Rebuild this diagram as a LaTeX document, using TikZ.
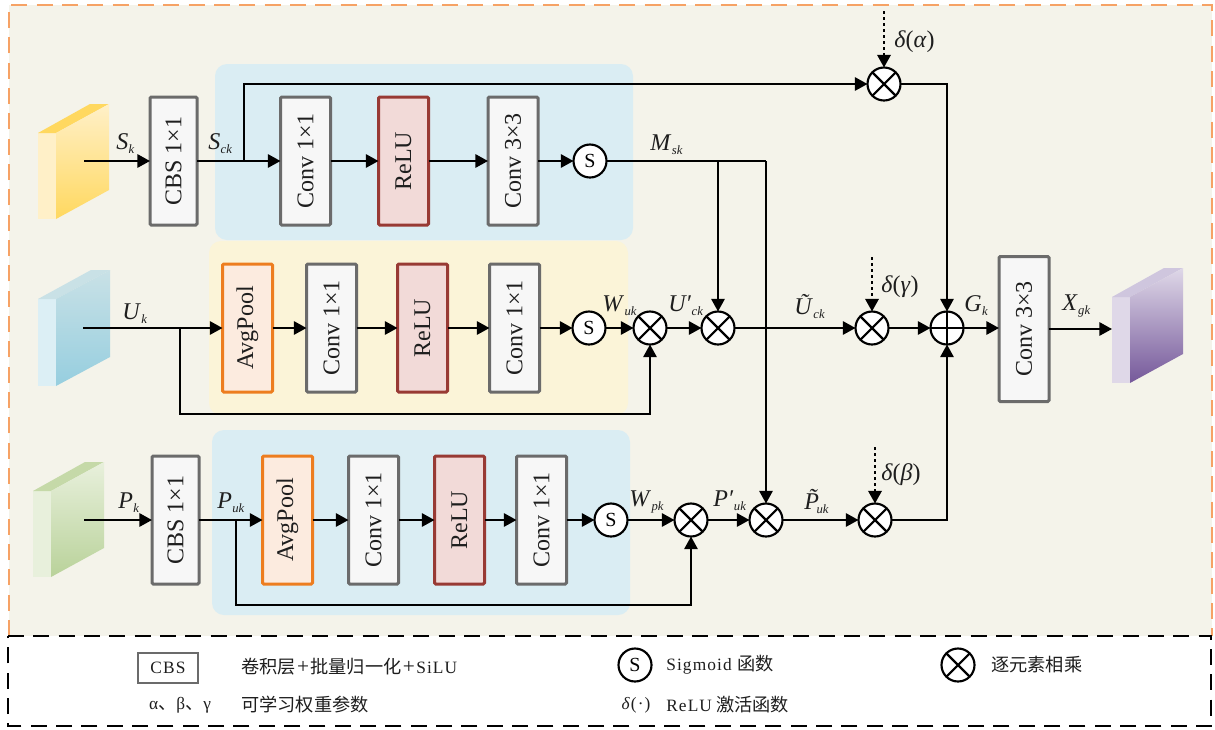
\documentclass[tikz,border=0pt]{standalone}
\usepackage{fontspec}
\setmainfont{Liberation Serif}
\newfontfamily\cjk{Noto Sans CJK SC}[Scale=1.05]
\newfontfamily\lsp{Liberation Serif}[LetterSpace=6.5]
\usetikzlibrary{arrows.meta}
\definecolor{bgc}{HTML}{F4F3EA}
\definecolor{panB}{HTML}{DAEDF3}
\definecolor{panY}{HTML}{FBF4D8}
\definecolor{orangeD}{HTML}{F6A265}
\definecolor{boxE}{HTML}{6B6B6B}
\definecolor{boxF}{HTML}{F7F7F7}
\definecolor{reluE}{HTML}{983A34}
\definecolor{reluF}{HTML}{F2DAD8}
\definecolor{avgE}{HTML}{ED7D1F}
\definecolor{avgF}{HTML}{FCEBDF}
\definecolor{txtc}{HTML}{1E1E1E}
\definecolor{yl}{HTML}{FFF0C8}\definecolor{yd}{HTML}{FFD85F}\definecolor{ym}{HTML}{FFEDB8}
\definecolor{bl}{HTML}{DCEFF5}\definecolor{bd}{HTML}{96CEDF}\definecolor{bt}{HTML}{C9E1E6}\definecolor{bm}{HTML}{CFE8F0}
\definecolor{gl}{HTML}{E8F0DC}\definecolor{gd}{HTML}{B9D29A}\definecolor{gt}{HTML}{C5D9A8}\definecolor{gm}{HTML}{DCE8C8}
\definecolor{pl}{HTML}{DFD8E8}\definecolor{pd}{HTML}{75589A}\definecolor{pt}{HTML}{CFC6DE}\definecolor{pm}{HTML}{CABFDA}
\newcommand\vt[1]{\rotatebox{90}{\fontsize{18pt}{18pt}\selectfont #1}}
\newcommand\lb[2]{\textit{#1}\raisebox{-3pt}{\kern.02em\fontsize{9.5pt}{10pt}\selectfont\textit{#2}}}
\newcommand\bigplus{{\fontsize{16pt}{15pt}\selectfont\kern1pt+\kern1pt}}
\tikzset{
 wire/.style={line width=1.6pt,black,-{Triangle[length=9.5pt,width=10pt]}},
 plain/.style={line width=1.6pt,black},
 dashwire/.style={line width=1.8pt,black,dash pattern=on 2.5pt off 2pt,-{Triangle[length=9.5pt,width=10pt]}},
 boxbase/.style={draw=boxE,fill=boxF,line width=2.25pt,rounded corners=1pt,inner sep=0pt,outer sep=0pt,minimum width=50*.75pt,minimum height=128*.75pt,text=txtc},
 avgbox/.style={boxbase,draw=avgE,fill=avgF},
 relubox/.style={boxbase,draw=reluE,fill=reluF},
 circ/.style={circle,draw=black,fill=white,line width=1.6pt,minimum size=33*.75pt,inner sep=0pt,outer sep=0pt},
 sig/.style={circ,font=\fontsize{15pt}{15pt}\selectfont},
 mul/.style={circ,path picture={
   \draw[line width=1.6pt] (path picture bounding box.north west)--(path picture bounding box.south east)
     (path picture bounding box.north east)--(path picture bounding box.south west);}},
 addn/.style={circ,path picture={
   \draw[line width=1.6pt] (path picture bounding box.north)--(path picture bounding box.south)
     (path picture bounding box.east)--(path picture bounding box.west);}},
 lab/.style={inner sep=0pt,anchor=base west,text=txtc,font=\fontsize{18pt}{18pt}\selectfont},
 leg/.style={inner sep=0pt,anchor=west,text=txtc,font=\fontsize{13pt}{15pt}\selectfont\lsp},
 panel/.style={rounded corners=9pt,draw=none},
}
\newcommand\cube[9]{%
 \fill[#7] (#1,#4) rectangle (#2,#5);
 \fill[#9] (#1,#4) -- (#3-19,#4-#6) -- (#3,#4-#6) -- (#2,#4) -- cycle;
 \shade[top color=\sidetop,middle color=#8,bottom color=\sidebot] (#2,#4) -- (#3,#4-#6) -- (#3,#5-#6) -- (#2,#5) -- cycle;
}
\begin{document}
\begin{tikzpicture}[x=.75pt,y=-.75pt]
\useasboundingbox (0,0) rectangle (1215,729);
\fill[white] (0,0) rectangle (1215,729);
% background and legend frames
\fill[bgc] (9,5) rectangle (1212,636);
\draw[orangeD,line width=1.5pt,dash pattern=on 12pt off 7pt] (9,636) -- (9,5) -- (1212,5) -- (1212,636);
\draw[black,line width=1.5pt,dash pattern=on 12pt off 7pt] (8,636) -- (1211,636) -- (1211,726) -- (8,726) -- cycle;
% panels
\fill[panel,panB] (215,64) rectangle (633,240);
\fill[panel,panY] (209,241) rectangle (628,415);
\fill[panel,panB] (212,430) rectangle (630,615);
% feature blocks
\def\sidetop{yl}\def\sidebot{yd}
\cube{38}{56}{109}{133}{219}{29}{yl}{ym}{yd}
\def\sidetop{bt}\def\sidebot{bd}
\cube{38}{56}{110}{299}{386}{29}{bl}{bm}{bt}
\def\sidetop{gl}\def\sidebot{gd}
\cube{33}{51}{104}{491}{577}{29}{gl}{gm}{gt}
\def\sidetop{pl}\def\sidebot{pd}
\cube{1112}{1130}{1183}{297}{383}{29}{pl}{pm}{pt}
% free ends and bends
\coordinate (s0) at (84,161);
\coordinate (u0) at (83,328);
\coordinate (p0) at (84,520);
\coordinate (sb) at (244,161);
\coordinate (st) at (244,84);
\coordinate (ub) at (180,328);
\coordinate (ud) at (180,414);
\coordinate (pb) at (236,520);
\coordinate (pbd) at (236,605);
\coordinate (ms1) at (718,161);
\coordinate (ms2) at (766,161);
\coordinate (ta) at (884,11);
\coordinate (tg) at (872,257);
\coordinate (tb) at (875,447);
\coordinate (tr) at (947,84);
\coordinate (br) at (947,520);
% row 1
\node[boxbase,minimum width=47*.75pt] (cbs1) at (173.5,161) {\vt{CBS 1×1}};
\node[boxbase] (a1) at (305.5,161) {\vt{Conv 1×1}};
\node[relubox] (a2) at (403.5,161) {\vt{ReLU}};
\node[boxbase] (a3) at (513,161) {\vt{Conv 3×3}};
\node[sig] (sa) at (590,161) {S};
% row 2
\node[avgbox] (b1) at (247.5,328) {\vt{AvgPool}};
\node[boxbase] (b2) at (331.5,328) {\vt{Conv 1×1}};
\node[relubox] (b3) at (422.5,328) {\vt{ReLU}};
\node[boxbase] (b4) at (514.5,328) {\vt{Conv 1×1}};
\node[sig] (sb0) at (589,328) {S};
\node[mul] (mb1) at (650,328) {};
\node[mul] (mb2) at (718,328) {};
\node[mul] (mb3) at (872,328) {};
\node[addn] (add) at (947,328) {};
\node[boxbase,minimum height=145*.75pt] (last) at (1024,329) {\vt{Conv 3×3}};
\coordinate (xend) at (1112,329);
% row 3
\node[boxbase,minimum width=47*.75pt] (cbs3) at (175.5,520) {\vt{CBS 1×1}};
\node[avgbox] (c1) at (287.5,520) {\vt{AvgPool}};
\node[boxbase] (c2) at (373.5,520) {\vt{Conv 1×1}};
\node[relubox] (c3) at (459.5,520) {\vt{ReLU}};
\node[boxbase] (c4) at (541.5,520) {\vt{Conv 1×1}};
\node[sig] (sc) at (611,520) {S};
\node[mul] (mc1) at (691,520) {};
\node[mul] (mc2) at (766,520) {};
\node[mul] (mc3) at (875,520) {};
\node[mul] (mt) at (884,84) {};
% connectors row 1
\draw[wire] (s0) -- (cbs1);
\draw[wire] (cbs1) -- (a1);
\draw[wire] (a1) -- (a2);
\draw[wire] (a2) -- (a3);
\draw[wire] (a3) -- (sa);
\draw[wire] (sb) -- (st) -- (mt);
\draw[wire] (mt) -- (tr) -- (add);
\draw[dashwire] (ta) -- (mt);
\draw[plain] (sa) -- (ms2);
\draw[wire] (ms1) -- (mb2);
\draw[wire] (ms2) -- (mc2);
% connectors row 2
\draw[wire] (u0) -- (b1);
\draw[wire] (b1) -- (b2);
\draw[wire] (b2) -- (b3);
\draw[wire] (b3) -- (b4);
\draw[wire] (b4) -- (sb0);
\draw[wire] (sb0) -- (mb1);
\draw[wire] (mb1) -- (mb2);
\draw[wire] (mb2) -- (mb3);
\draw[wire] (mb3) -- (add);
\draw[wire] (add) -- (add -| last.west);
\draw[wire] (last.east |- xend) -- (xend);
\draw[wire] (ub) -- (ud) -- (ud -| mb1) -- (mb1);
\draw[dashwire] (tg) -- (mb3);
% connectors row 3
\draw[wire] (p0) -- (cbs3);
\draw[wire] (cbs3) -- (c1);
\draw[wire] (c1) -- (c2);
\draw[wire] (c2) -- (c3);
\draw[wire] (c3) -- (c4);
\draw[wire] (c4) -- (sc);
\draw[wire] (sc) -- (mc1);
\draw[wire] (mc1) -- (mc2);
\draw[wire] (mc2) -- (mc3);
\draw[wire] (pb) -- (pbd) -- (pbd -| mc1) -- (mc1);
\draw[dashwire] (tb) -- (mc3);
\draw[wire] (mc3) -- (br) -- (add);
% labels
\node[lab] (l1) at (116,149) {\lb{S}{k}};
\node[lab] (l2) at (208,149) {\lb{S}{ck}};
\node[lab] (l3) at (650,150) {\lb{M}{sk}};
\node[lab] (l4) at (122,319) {\lb{U}{k}};
\node[lab] (l5) at (602,311) {\lb{W}{uk}};
\node[lab] (l6) at (668,311) {\lb{U′}{ck}};
\node[lab] (l7) at (794,314) {\lb{\~U}{ck}};
\node[lab] (l8) at (881,292) {\textit{δ}(\textit{γ})};
\node[lab] (l9) at (964,311) {\lb{G}{k}};
\node[lab] (l10) at (1062,310) {\lb{X}{gk}};
\node[lab] (l11) at (118,508) {\lb{P}{k}};
\node[lab] (l12) at (217,508) {\lb{P}{uk}};
\node[lab] (l13) at (629,506) {\lb{W}{pk}};
\node[lab] (l14) at (713,506) {\lb{P′}{uk}};
\node[lab] (l15) at (804,509) {\lb{\~P\kern-.12em}{uk}};
\node[lab] (l16) at (881,480) {\textit{δ}(\textit{β})};
\node[lab] (l17) at (894,47) {\textit{δ}(\textit{α})};
% legend
\node[draw=boxE,fill=white,line width=1pt,minimum width=60*.75pt,minimum height=30*.75pt,inner sep=0pt,text=txtc,font=\fontsize{13pt}{15pt}\selectfont\lsp] (lg1) at (168,668) {CBS};
\node[leg] (lg2) at (241,667) {{\cjk 卷积层}\bigplus{\cjk 批量归一化}\bigplus SiLU};
\node[leg,anchor=center] (lg3) at (180,705) {α{\cjk 、}β{\cjk 、}γ};
\node[leg] (lg4) at (241,705) {\cjk 可学习权重参数};
\node[sig] (lg5) at (635,665) {S};
\node[leg] (lg6) at (666,665) {Sigmoid\kern4pt{\cjk 函数}};
\node[mul] (lg7) at (958,665) {};
\node[leg] (lg8) at (991,665) {\cjk 逐元素相乘};
\node[leg,anchor=center] (lg9) at (636,705) {\textit{δ}(·)};
\node[leg] (lg10) at (666,705) {ReLU\kern3pt{\cjk 激活函数}};
\end{tikzpicture}
\end{document}
